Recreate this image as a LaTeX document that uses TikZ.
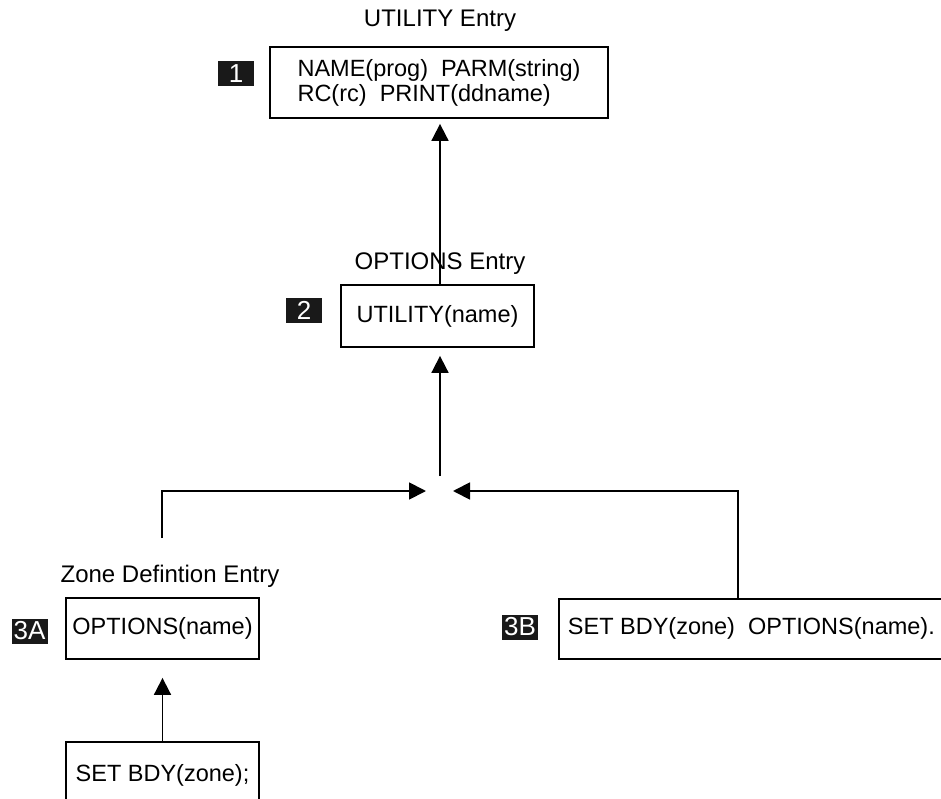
\documentclass[tikz,border=0pt]{standalone}
\usepackage{fontspec}
\setmainfont{Liberation Sans}
\usetikzlibrary{arrows.meta, positioning, calc}
\tikzset{
	entry/.style={rectangle, draw, line width=1.8pt, align=left},
	tag/.style={rectangle, fill=black!90, text=white, minimum width=36pt, minimum height=25pt, inner sep=1pt, font=\fontsize{26}{26}\selectfont},
	flow/.style={draw, line width=1.8pt, -{Triangle[length=17pt, width=17pt]}}
}

\begin{document}
\begin{tikzpicture}[
	x=1pt, y=-1pt,
	font=\fontsize{23.5}{25}\selectfont
	]
	\useasboundingbox (0,0) rectangle (941,799);
	
	% Entry boxes
	\node[entry, minimum width=338pt, minimum height=71pt] (utility_entry) at (439,82.5)
		{NAME(prog)\ \ PARM(string)\\RC(rc)\ \ PRINT(ddname)};
	\node[entry, minimum width=193pt, minimum height=62pt] (options_entry) at (437.5,316) {UTILITY(name)};
	\node[entry, minimum width=193pt, minimum height=61pt] (zone_options) at (162.5,628.5) {OPTIONS(name)};
	\node[entry, minimum width=193pt, minimum height=66pt] (zone_set) at (162.5,775) {\raisebox{5pt}{SET BDY(zone);}};
	\node[entry, anchor=north west, minimum height=60pt, inner xsep=9pt] (set_both) at (558,598)
		{SET BDY(zone)\ \ OPTIONS(name).};
	
	% Titles above the boxes
	\node[font=\fontsize{24}{26}\selectfont] (utility_title) at (440,21) {UTILITY Entry};
	\node[font=\fontsize{24}{26}\selectfont] (options_title) at (440,264) {OPTIONS Entry};
	\node[font=\fontsize{24}{26}\selectfont] (zone_title) at (170,576) {Zone Defintion Entry};
	
	% Numbered tags
	\node[tag] (tag_1) at (236,73.5) {1};
	\node[tag] (tag_2) at (304,310) {2};
	\node[tag] (tag_3A) at (29.5,631) {3A};
	\node[tag] (tag_3B) at (520,627) {3B};
	
	% Merge point and taps
	\coordinate (merge) at (440,491);
	\coordinate (zone_tap) at (162,538);
	\coordinate (both_tap) at ($(set_both.north west)+(180,0)$);
	
	% Connectors
	\draw[flow, shorten >=5pt] (merge |- options_entry.north) -- (merge |- utility_entry.south);
	\draw[flow, shorten <=15pt, shorten >=8pt] (merge) -- (merge |- options_entry.south);
	\draw[flow, shorten >=14pt] (zone_tap) |- (merge);
	\draw[flow, shorten >=13pt] (both_tap) |- (merge);
	\draw[flow, shorten >=18pt] (zone_set.north) -- (zone_options.south);
	
\end{tikzpicture}
\end{document}
